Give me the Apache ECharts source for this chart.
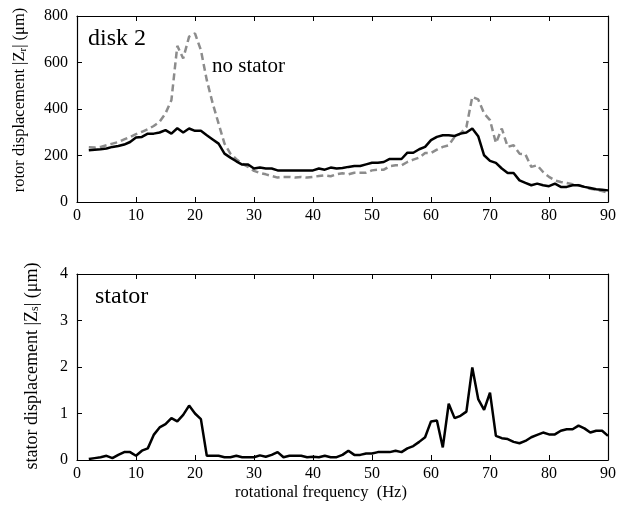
<!DOCTYPE html>
<html><head><meta charset="utf-8">
<script src="https://cdn.jsdelivr.net/npm/echarts@6/dist/echarts.min.js"></script>
<style>html,body{margin:0;padding:0;background:#fff}#c{width:621px;height:506px}</style>
</head><body><div id="c"></div>
<script>
var freq = [];
for (var f = 2; f <= 90; f++) freq.push(f);
var rotorStator = [223,225,227,230,237,241,247,258,277,280,294,294,299,309,294,317,299,316,306,306,287,269,251,208,191,175,161,161,144,148,144,144,136,136,136,136,136,136,136,144,139,148,144,146,151,155,155,162,169,169,172,185,185,185,212,212,227,237,266,280,287,287,284,294,299,316,283,201,177,168,144,125,125,93,82,72,79,72,68,79,65,65,72,72,65,60,55,53,50];
var rotorNoStator = [236,234,237,244,251,258,269,280,292,302,313,327,345,381,438,672,617,711,725,653,524,424,337,251,208,184,165,151,134,125,119,112,105,108,108,105,108,105,108,112,115,111,119,124,119,126,126,126,136,139,139,154,158,158,172,182,191,211,211,225,237,244,280,294,323,452,441,381,352,254,316,237,244,208,205,151,158,129,108,93,86,82,76,72,65,57,53,47,40];
var statorDisp = [0.02,0.04,0.06,0.09,0.04,0.11,0.17,0.17,0.09,0.2,0.25,0.54,0.7,0.77,0.9,0.83,0.97,1.17,1.0,0.88,0.09,0.09,0.09,0.06,0.06,0.09,0.06,0.06,0.06,0.1,0.07,0.11,0.17,0.06,0.09,0.09,0.09,0.06,0.07,0.06,0.09,0.06,0.06,0.11,0.2,0.11,0.11,0.14,0.14,0.17,0.17,0.17,0.2,0.17,0.25,0.3,0.39,0.49,0.83,0.85,0.27,1.21,0.9,0.95,1.04,1.99,1.31,1.08,1.45,0.52,0.47,0.45,0.39,0.36,0.41,0.49,0.54,0.59,0.55,0.55,0.63,0.66,0.66,0.74,0.68,0.59,0.63,0.63,0.52];
var xTicks = [0,10,20,30,40,50,60,70,80,90];

function pairs(v){ return freq.map(function(f,i){ return [f, v[i]]; }); }
var FONT = 'Liberation Serif';
var tickStyle = {inside:true, length:5, lineStyle:{color:'#000', width:1}};
var lineStyle = {color:'#000', width:1.2};
function xAx(grid, pos, labels){
  return {type:'value', gridIndex:grid, position:pos, min:0, max:90, interval:10,
    axisLine:{show:true, onZero:false, lineStyle:lineStyle}, axisTick:tickStyle,
    splitLine:{show:false},
    axisLabel:{show:labels, color:'#000', fontFamily:FONT, fontSize:16, margin:6}};
}
function yAx(grid, pos, labels, max, interval){
  return {type:'value', gridIndex:grid, position:pos, min:0, max:max, interval:interval,
    axisLine:{show:true, onZero:false, lineStyle:lineStyle}, axisTick:tickStyle,
    splitLine:{show:false},
    axisLabel:{show:labels, color:'#000', fontFamily:FONT, fontSize:16, margin:9}};
}
function vlabel(x, y, size, main, sub){
  return {type:'text', x:x, y:y, rotation:Math.PI/2,
    style:{text:main + '{s|' + sub + '}| (μm)', fill:'#000', font: size + 'px "Liberation Serif"',
      align:'center', verticalAlign:'middle',
      rich:{s:{fontFamily:FONT, fontSize:Math.round(size*0.65), fill:'#000', verticalAlign:'bottom', lineHeight:Math.round(size*0.65)}}}};
}
var chart = echarts.init(document.getElementById('c'));
chart.setOption({
  animation:false,
  backgroundColor:'#fff',
  grid:[{left:77, right:13, top:16, height:186}, {left:77, right:13, top:274, height:186}],
  xAxis:[xAx(0,'bottom',true), xAx(0,'top',false), xAx(1,'bottom',true), xAx(1,'top',false)],
  yAxis:[yAx(0,'left',true,800,200), yAx(0,'right',false,800,200),
         yAx(1,'left',true,4,1), yAx(1,'right',false,4,1)],
  series:[
    {type:'line', xAxisIndex:0, yAxisIndex:0, data:pairs(rotorNoStator), showSymbol:false,
      lineStyle:{color:'#8c8c8c', width:2.5, type:[7,4]}},
    {type:'line', xAxisIndex:0, yAxisIndex:0, data:pairs(rotorStator), showSymbol:false,
      lineStyle:{color:'#000', width:2.5}},
    {type:'line', xAxisIndex:2, yAxisIndex:2, data:pairs(statorDisp), showSymbol:false,
      lineStyle:{color:'#000', width:2.5}}
  ],
  graphic:[
    {type:'text', left:88, top:27, style:{text:'disk 2', font:'24px "Liberation Serif"', fill:'#000'}},
    {type:'text', left:212, top:56, style:{text:'no stator', font:'21px "Liberation Serif"', fill:'#000'}},
    {type:'text', left:95, top:285, style:{text:'stator', font:'24px "Liberation Serif"', fill:'#000'}},
    vlabel(20, 100, 16.5, 'rotor displacement |Z', 'r'),
    vlabel(32, 366, 18, 'stator displacement |Z', 's'),
    {type:'text', x:321, y:493, style:{text:'rotational frequency  (Hz)', font:'16.5px "Liberation Serif"', fill:'#000', align:'center', verticalAlign:'middle'}}
  ]
});
</script></body></html>
